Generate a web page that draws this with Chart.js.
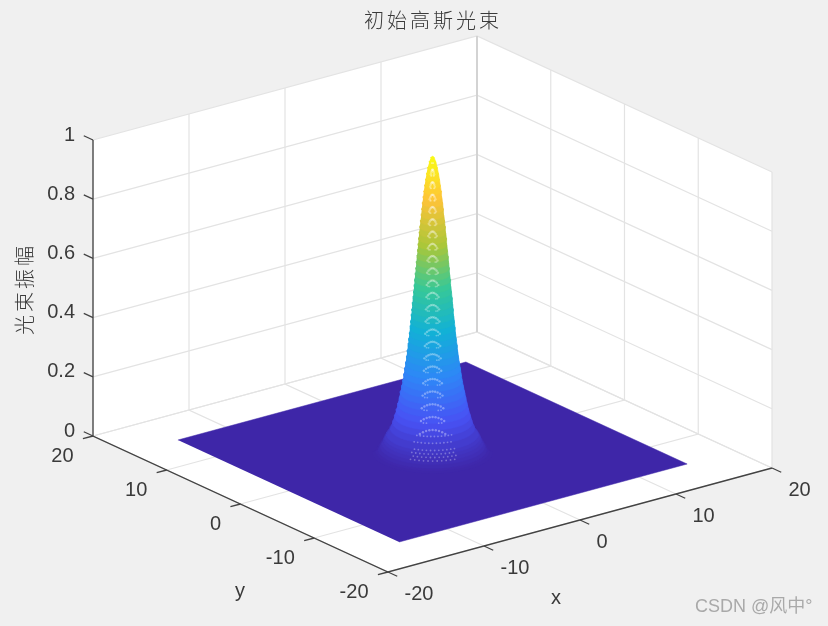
<!DOCTYPE html>
<html>
<head>
<meta charset="utf-8">
<title>初始高斯光束</title>
<script src="https://cdn.jsdelivr.net/npm/chart.js@4/dist/chart.umd.min.js"></script>
<style>
    html, body { margin: 0; padding: 0; background: #f0f0f0; }
    canvas { display: block; filter: blur(0.35px); }
</style>
</head>
<body>
<canvas id="beam" width="828" height="626"></canvas>
<script>
// axis ticks
const xTicks = [-20, -10, 0, 10, 20];
const yTicks = [-20, -10, 0, 10, 20];
const zTicks = [0, 0.2, 0.4, 0.6, 0.8, 1];

// extent of the flat sheet in x and y
const sheetExtent = [-15, 15];

// beam profile, from the foot up to the peak
const beamRadius = [5.0, 4.7, 4.5, 4.35, 4.2, 4.05, 3.95, 3.8, 3.5, 3.3,
    3.15, 3.0, 2.88, 2.77, 2.67, 2.56, 2.46, 2.38, 2.31, 2.23,
    2.15, 2.09, 2.03, 1.97, 1.91, 1.86, 1.81, 1.76, 1.71, 1.67,
    1.62, 1.57, 1.52, 1.48, 1.43, 1.38, 1.34, 1.29, 1.24, 1.19,
    1.15, 1.10, 1.05, 1.00, 0.94, 0.89, 0.84, 0.78, 0.72, 0.65,
    0.58, 0.50, 0.40, 0.28, 0.14, 0];
const beamAmplitude = [0, 0.005, 0.01, 0.02, 0.03, 0.04, 0.05, 0.06, 0.08, 0.10,
    0.12, 0.14, 0.16, 0.18, 0.20, 0.22, 0.24, 0.26, 0.28, 0.30,
    0.32, 0.34, 0.36, 0.38, 0.40, 0.42, 0.44, 0.46, 0.48, 0.50,
    0.52, 0.54, 0.56, 0.58, 0.60, 0.62, 0.64, 0.66, 0.68, 0.70,
    0.72, 0.74, 0.76, 0.78, 0.80, 0.82, 0.84, 0.86, 0.88, 0.90,
    0.92, 0.94, 0.96, 0.98, 0.995, 1];

// parula colour map
const colourStops = [0, 0.14, 0.28, 0.43, 0.57, 0.71, 0.86, 1];
const colourValues = [[62, 38, 168], [72, 82, 244], [46, 135, 247], [18, 177, 214],
    [55, 200, 151], [171, 199, 57], [254, 195, 56], [249, 251, 21]];

// view: where the box sits on the page
const origin = { x: 432.5, y: 452 };
const perX = { x: 9.6, y: -2.6 };
const perY = { x: -7.375, y: -3.4 };
const perZ = 296;

const GRID = '#e3e3e3';
const AXIS = '#434343';
const TEXT = '#3a3a3a';

function project(x, y, z) {
    return {
        x: origin.x + x * perX.x + y * perY.x,
        y: origin.y + x * perX.y + y * perY.y - z * perZ
    };
}

function parula(v) {
    let i = 0;
    while (i < colourStops.length - 2 && v > colourStops[i + 1]) i++;
    const t = (v - colourStops[i]) / (colourStops[i + 1] - colourStops[i]);
    const c = colourValues[i].map((a, k) => Math.round(a + (colourValues[i + 1][k] - a) * t));
    return `rgb(${c[0]}, ${c[1]}, ${c[2]})`;
}

const datasets = [];

function addLine(points, color, width) {
    datasets.push({
        data: points, showLine: true, borderColor: color, borderWidth: width,
        pointRadius: 0, fill: false, tension: 0
    });
}

function addShape(points, color, edge) {
    datasets.push({
        data: points, showLine: true, borderColor: color, borderWidth: edge,
        backgroundColor: color, pointRadius: 0, fill: 'shape', tension: 0
    });
}

const xMin = xTicks[0], xMax = xTicks[xTicks.length - 1];
const yMin = yTicks[0], yMax = yTicks[yTicks.length - 1];
const zMin = zTicks[0], zMax = zTicks[zTicks.length - 1];

// white panes of the box
addShape([project(xMin, yMin, zMin), project(xMax, yMin, zMin), project(xMax, yMin, zMax),
    project(xMax, yMax, zMax), project(xMin, yMax, zMax), project(xMin, yMax, zMin)], '#ffffff', 0);

// grid on the floor and the two back walls
xTicks.forEach(x => {
    addLine([project(x, yMin, zMin), project(x, yMax, zMin), project(x, yMax, zMax)], GRID, 1.2);
});
yTicks.forEach(y => {
    addLine([project(xMin, y, zMin), project(xMax, y, zMin), project(xMax, y, zMax)], GRID, 1.2);
});
zTicks.forEach(z => {
    addLine([project(xMin, yMax, z), project(xMax, yMax, z), project(xMax, yMin, z)], GRID, 1.2);
});
addLine([project(xMax, yMax, zMin), project(xMax, yMax, zMax)], '#cfcfcf', 1.6);

// flat sheet
addShape([project(sheetExtent[0], sheetExtent[0], 0), project(sheetExtent[1], sheetExtent[0], 0),
    project(sheetExtent[1], sheetExtent[1], 0), project(sheetExtent[0], sheetExtent[1], 0)], parula(0), 0.5);

// axis lines and tick marks
addLine([project(xMin, yMax, zMax), project(xMin, yMax, zMin), project(xMin, yMin, zMin), project(xMax, yMin, zMin)], AXIS, 1.3);
xTicks.forEach(x => {
    addLine([project(x, yMin, 0), project(x, yMin - 1.25, 0)], AXIS, 1.3);
});
yTicks.forEach(y => {
    addLine([project(xMin, y, 0), project(xMin - 1.05, y, 0)], AXIS, 1.3);
});
zTicks.forEach(z => {
    addLine([project(xMin, yMax, z), project(xMin, yMax + 1.25, z)], AXIS, 1.3);
});

// beam: one band between each pair of neighbouring rings, painted from the foot up.
// u runs across the page, v runs up the page on the floor.
const uLen = Math.hypot(perY.y, perX.y);
const u = { x: -perY.y / uLen, y: perX.y / uLen };
const v = { x: -u.y, y: u.x };
const SEGMENTS = 24;

function ringPoint(i, angle, drop = 0) {
    const r = beamRadius[i];
    return project(r * (Math.cos(angle) * u.x + Math.sin(angle) * v.x),
        r * (Math.cos(angle) * u.y + Math.sin(angle) * v.y), beamAmplitude[i] - drop);
}

for (let i = 0; i < beamRadius.length - 1; i++) {
    const points = [];
    for (let s = 0; s <= SEGMENTS; s++) points.push(ringPoint(i, Math.PI + Math.PI * s / SEGMENTS));
    for (let s = 0; s <= SEGMENTS; s++) points.push(ringPoint(i + 1, Math.PI * s / SEGMENTS));
    addShape(points, parula((beamAmplitude[i] + beamAmplitude[i + 1]) / 2), 0.6);
}

// pale speckle down the front of the beam: arches on the flank, scattered dots at the foot
const arches = [];
const between = [];
for (let i = 10; i < beamRadius.length - 2; i += 2) {
    for (let k = -4; k <= 4; k++) {
        arches.push(ringPoint(i, -Math.PI / 2 + k * 0.085, k * k * 0.001));
    }
    [-3, -2, 2, 3].forEach(k => between.push(ringPoint(i + 1, -Math.PI / 2 + k * 0.085)));
}
for (let i = 4; i < 10; i++) {
    for (let k = -5; k <= 5; k++) {
        between.push(ringPoint(i, -Math.PI / 2 + (k + (i % 2) * 0.5) * 0.09));
    }
}
datasets.push({
    data: arches, showLine: false, pointRadius: 1.2, pointBorderWidth: 0,
    pointBackgroundColor: 'rgba(255, 255, 255, 0.34)'
});
datasets.push({
    data: between, showLine: false, pointRadius: 0.9, pointBorderWidth: 0,
    pointBackgroundColor: 'rgba(255, 255, 255, 0.3)'
});

// text: title, tick labels, axis names, watermark
const textPlugin = {
    id: 'plotText',
    afterDraw(chart) {
        const ctx = chart.ctx;
        const scaleX = chart.scales.x, scaleY = chart.scales.y;
        ctx.save();
        ctx.fillStyle = TEXT;
        ctx.textBaseline = 'middle';

        ctx.font = '20px "Liberation Sans", Arial, sans-serif';
        ctx.textAlign = 'right';
        zTicks.forEach(z => {
            const p = project(xMin, yMax, z);
            ctx.fillText(String(z), scaleX.getPixelForValue(p.x) - 18, scaleY.getPixelForValue(p.y) - 5);
        });
        yTicks.forEach(y => {
            const p = project(xMin, y, 0);
            ctx.fillText(String(y), scaleX.getPixelForValue(p.x) - 19.5, scaleY.getPixelForValue(p.y) + 20);
        });
        ctx.textAlign = 'left';
        xTicks.forEach(x => {
            const p = project(x, yMin, 0);
            ctx.fillText(String(x), scaleX.getPixelForValue(p.x) + 16.5, scaleY.getPixelForValue(p.y) + 22);
        });

        ctx.textAlign = 'center';
        ctx.fillText('x', 556, 598);
        ctx.fillText('y', 240, 591);

        ctx.font = '300 20px "Noto Sans CJK SC", sans-serif';
        ctx.letterSpacing = '3px';
        ctx.fillText('初始高斯光束', 433, 20);
        ctx.letterSpacing = '0px';

        ctx.save();
        ctx.translate(24, 289);
        ctx.rotate(-Math.PI / 2);
        ctx.letterSpacing = '3px';
        ctx.fillText('光束振幅', 0, 0);
        ctx.restore();

        ctx.fillStyle = '#a9a9a9';
        ctx.textAlign = 'left';
        ctx.font = '18px "Liberation Sans", "Noto Sans CJK SC", sans-serif';
        ctx.fillText('CSDN @风中°', 695, 607);
        ctx.restore();
    }
};

// the first dataset is painted last, so hand them over back to front
datasets.reverse();

new Chart(document.getElementById('beam').getContext('2d'), {
    type: 'scatter',
    data: { datasets: datasets },
    options: {
        responsive: false,
        animation: false,
        layout: { padding: 0, autoPadding: false },
        plugins: { legend: { display: false }, tooltip: { enabled: false }, title: { display: false } },
        scales: {
            x: { type: 'linear', min: 0, max: 828, display: false },
            y: { type: 'linear', min: 0, max: 626, reverse: true, display: false }
        }
    },
    plugins: [textPlugin]
});
</script>
</body>
</html>
